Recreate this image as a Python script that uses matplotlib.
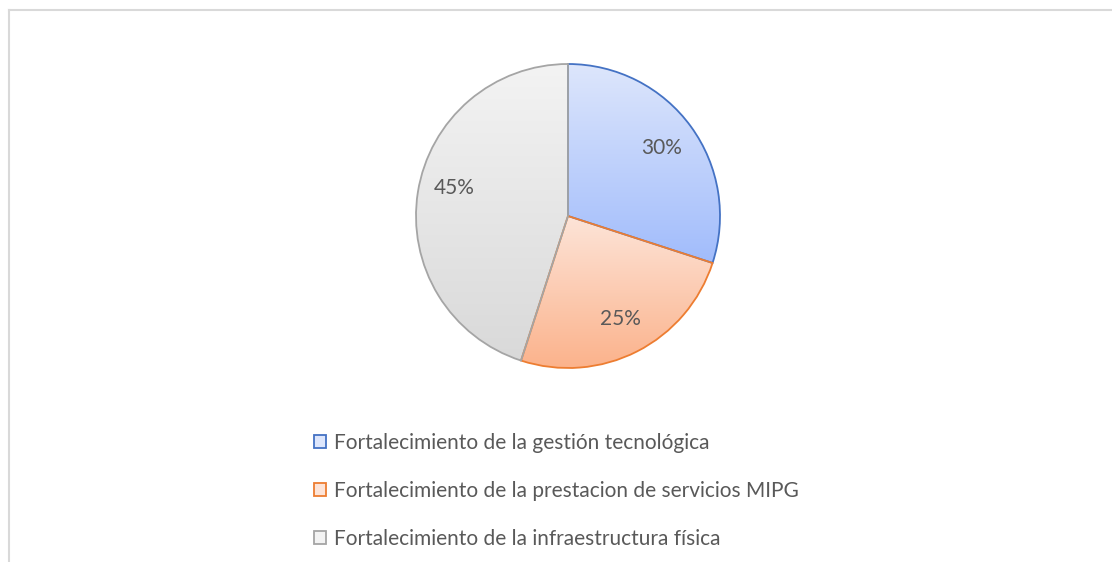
import numpy as np
import matplotlib
matplotlib.use("Agg")
import matplotlib.pyplot as plt
from matplotlib.patches import Patch
from matplotlib.colors import LinearSegmentedColormap

labels = ["Fortalecimiento de la gestión tecnológica",
          "Fortalecimiento de la prestacion de servicios MIPG",
          "Fortalecimiento de la infraestructura física"]
values = [30, 25, 45]

# gradient top -> bottom, edge colour
grad_top = ["#dde6fc", "#fde4d8", "#f3f3f3"]
grad_bot = ["#a1bcfb", "#fbb28b", "#d9d9d9"]
edges = ["#4472c4", "#ed7d31", "#a5a5a5"]

plt.rcParams["font.family"] = ["Lato", "DejaVu Sans"]

fig = plt.figure(figsize=(11.12, 5.62), dpi=100)

# light frame on the left and top like the source screenshot
fig.add_artist(plt.Line2D([8.5 / 1112, 8.5 / 1112], [0, 1 - 9.5 / 562], color="#d9d9d9", lw=1.5))
fig.add_artist(plt.Line2D([8.5 / 1112, 1], [1 - 9.5 / 562, 1 - 9.5 / 562], color="#d9d9d9", lw=1.5))

ax = fig.add_axes([416 / 1112, (562 - 368) / 562, 304 / 1112, 304 / 562])
wedges, texts, autotexts = ax.pie(values, startangle=90, counterclock=False, radius=1,
                                  autopct="%1.0f%%", pctdistance=0.76,
                                  wedgeprops=dict(linewidth=1.3),
                                  textprops=dict(color="#595959", fontsize=15))

for w, top, bot, ec in zip(wedges, grad_top, grad_bot, edges):
    w.set_facecolor("none")
    w.set_edgecolor(ec)
    w.set_zorder(3)
    w.set_clip_on(False)
    verts = w.get_path().vertices
    x0, y0 = verts.min(axis=0)
    x1, y1 = verts.max(axis=0)
    cmap = LinearSegmentedColormap.from_list("g", [bot, top])
    grad = np.linspace(0, 1, 256).reshape(-1, 1)
    im = ax.imshow(grad, cmap=cmap, origin="lower", extent=(x0, x1, y0, y1),
                   aspect="auto", zorder=2, interpolation="bilinear")
    im.set_clip_path(w)

for t in autotexts:
    t.set_zorder(5)

# the big slice label sits off its bisector in the source
ang = np.deg2rad(166)
autotexts[2].set_position((0.77 * np.cos(ang), 0.77 * np.sin(ang)))

ax.set_xlim(-1, 1)
ax.set_ylim(-1, 1)
ax.set_aspect("equal")
ax.axis("off")

handles = [Patch(facecolor=t, edgecolor=e, linewidth=1.3) for t, e in zip(grad_top, edges)]
fig.legend(handles, labels, loc="upper left", bbox_to_anchor=(314 / 1112, 1 - 433 / 562),
           frameon=False, fontsize=15, labelcolor="#595959",
           handlelength=0.56, handleheight=0.56, handletextpad=0.4, labelspacing=1.34,
           borderpad=0, borderaxespad=0)

fig.savefig("out.png", dpi=100)
